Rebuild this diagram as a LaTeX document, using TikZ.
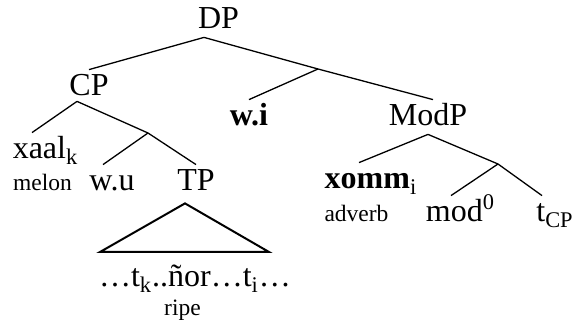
\documentclass[tikz,border=0pt]{standalone}
\usepackage{fontspec}
\setmainfont{Liberation Serif}

\tikzset{
  cat/.style={font=\fontsize{16}{19}\selectfont, inner xsep=0pt, inner ysep=3pt,
              text height=10pt, text depth=1pt, anchor=base},
  gloss/.style={font=\fontsize{11.75}{14}\selectfont, inner sep=0pt, anchor=base},
  branch/.style={line width=0.65pt},
  roof/.style={line width=1pt, line join=miter}
}

\begin{document}
\begin{tikzpicture}[x=0.5pt,y=-0.5pt]
  \useasboundingbox (0,0) rectangle (573,325);

%Kategorier
    \node[cat] (DP) at (218.5,29) {DP};
    \node[cat] (CP) at (89,96) {CP};
    \node[cat] (wi) at (249,126) {\textbf{w.i}};
    \node[cat] (ModP) at (428,126) {ModP};
    \node[cat] (xaal) at (45.5,159) {xaal\textsubscript{k}};
    \node[cat] (wu) at (112,191) {w.u};
    \node[cat] (TP) at (196,191) {TP};
    \node[cat] (xomm) at (371,189) {\textbf{xomm}\textsubscript{i}};
    \node[cat] (mod) at (460.5,222) {mod\textsuperscript{0}};
    \node[cat] (tcp) at (555,222) {t\textsubscript{CP}};
    \node[cat] (yield) at (195,287) {…t\textsubscript{k}..ñor…t\textsubscript{i}…};

%Glosser
    \node[gloss] (melon) at (42.5,191) {melon};
    \node[gloss] (adverb) at (356.5,222) {adverb};
    \node[gloss] (ripe) at (182.5,316) {ripe};

%Forgreninger
    \coordinate (dpmid) at (318,69);
    \coordinate (cpmid) at (148,133);
    \coordinate (modmid) at (498,164);

%Grener
    \draw[branch] ([xshift=-7.25pt]DP.south) -- (CP.north);
    \draw[branch] ([xshift=-7.25pt]DP.south) -- (dpmid) -- ([xshift=2.5pt]ModP.north);
    \draw[branch] (dpmid) -- (wi.north);

    \draw[branch] ([xshift=-6pt,yshift=1.5pt]CP.south) -- ([xshift=-6.75pt]xaal.north);
    \draw[branch] ([xshift=-6pt,yshift=1.5pt]CP.south) -- (cpmid);
    \draw[branch] (cpmid) -- ([xshift=-4.5pt]wu.north);
    \draw[branch] (cpmid) -- (TP.north);

    \draw[branch] (ModP.south) -- ([xshift=-6pt]xomm.north);
    \draw[branch] (ModP.south) -- (modmid);
    \draw[branch] (modmid) -- ([xshift=-4.75pt]mod.north);
    \draw[branch] (modmid) -- ([xshift=-6.5pt]tcp.north);

%Trekant
    \coordinate (roofl) at (100,252);
    \coordinate (roofr) at (269,252);
    \draw[roof] ([xshift=-5.5pt,yshift=-2pt]TP.south) -- (roofl) -- (roofr) -- cycle;

\end{tikzpicture}
\end{document}
